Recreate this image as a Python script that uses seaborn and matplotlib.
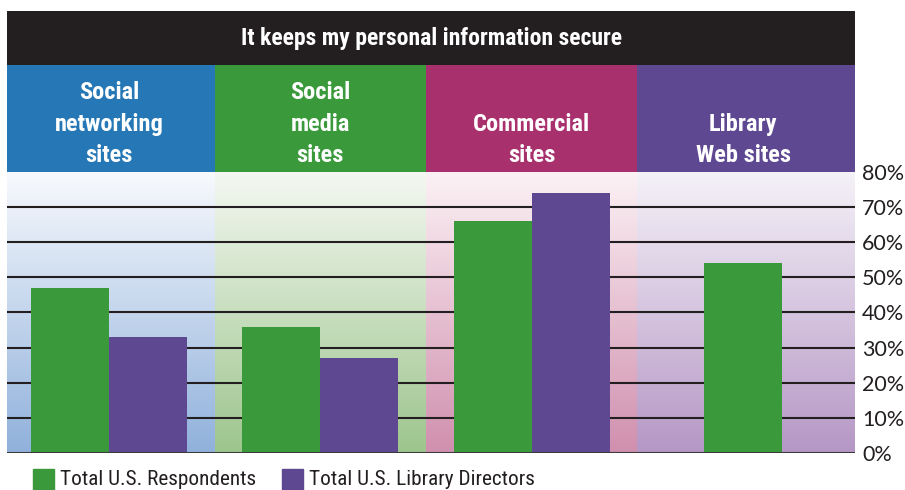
import numpy as np
import pandas as pd
import matplotlib
matplotlib.use("Agg")
import matplotlib.pyplot as plt
from matplotlib import font_manager
from matplotlib.colors import LinearSegmentedColormap
import seaborn as sns

# ---- data -------------------------------------------------------------
categories = ["Social\nnetworking\nsites", "Social\nmedia\nsites",
              "Commercial\nsites", "Library\nWeb sites"]
respondents = [47, 36, 66, 54]
directors = [33, 27, 74, np.nan]
series_names = ["Total U.S. Respondents", "Total U.S. Library Directors"]
y_ticks = [0, 10, 20, 30, 40, 50, 60, 70, 80]
tick_labels = [f"{t}%" for t in y_ticks]
title = "It keeps my personal information secure"

# ---- style ------------------------------------------------------------
sns.set_style("white")
installed = {f.name for f in font_manager.fontManager.ttflist}
narrow = "Roboto Condensed" if "Roboto Condensed" in installed else "Roboto"
plt.rcParams["font.family"] = [narrow, "DejaVu Sans"]

bar_colors = ["#3a9a3b", "#5e4892"]
header_colors = ["#2577b5", "#3a9a3b", "#a8306c", "#5e4892"]
bg_top = ["#f8fafd", "#f4f8f1", "#fcf2f5", "#f5f2f8"]
bg_bottom = ["#90b1dc", "#9dc58d", "#d08fae", "#b597c5"]
dark = "#231f20"

df = pd.DataFrame({
    "category": categories * 2,
    "value": respondents + directors,
    "series": [series_names[0]] * 4 + [series_names[1]] * 4,
})

W, H = 905, 490
fig = plt.figure(figsize=(W / 100, H / 100), dpi=100)


def fig_rect(x0, y0, x1, y1):
    return [x0 / W, 1 - y1 / H, (x1 - x0) / W, (y1 - y0) / H]


ax = fig.add_axes(fig_rect(7, 172, 855, 453))
ax_head = fig.add_axes(fig_rect(7, 65, 855, 172))
ax_title = fig.add_axes(fig_rect(7, 11, 855, 65))

x_lo, x_hi = -0.483, 3.53
edges = [x_lo] + [i + 0.5 for i in range(len(categories) - 1)] + [x_hi]

# gradient backgrounds per category
grad = np.linspace(1, 0, 256).reshape(-1, 1)
for i in range(len(categories)):
    cmap = LinearSegmentedColormap.from_list(f"bg{i}", [bg_top[i], bg_bottom[i]])
    ax.imshow(grad, extent=[edges[i], edges[i + 1], 0, 80], cmap=cmap,
              aspect="auto", zorder=0, origin="lower", vmin=0, vmax=1)

# horizontal rules
for t in y_ticks[1:-1]:
    ax.axhline(t, color=dark, lw=1.5, zorder=1)
ax.axhline(0, color="#3c3a3b", lw=2.2, zorder=3)

sns.barplot(data=df, x="category", y="value", hue="series",
            palette=bar_colors, width=0.738, dodge=True, saturation=1,
            ax=ax, legend=False, zorder=2, errorbar=None, linewidth=0)

# a category with only one series gets its bar centred
for i, (r, d) in enumerate(zip(respondents, directors)):
    if np.isnan(d):
        for p in ax.patches:
            cx = p.get_x() + p.get_width() / 2
            if abs(cx - i) < 0.5 and p.get_height() == r:
                p.set_x(i - p.get_width() / 2)

ax.set_xlim(x_lo, x_hi)
ax.set_ylim(0, 80)
ax.set_xlabel("")
ax.set_ylabel("")
ax.set_xticks([])
ax.yaxis.tick_right()
ax.set_yticks(y_ticks)
ax.set_yticklabels(tick_labels, fontsize=15.5, color=dark,
                   family=["Lato", "DejaVu Sans"])
ax.tick_params(axis="y", length=0, pad=5)
for s in ax.spines.values():
    s.set_visible(False)

# colored category headers, labels aligned on their last line
for i, (lab, c) in enumerate(zip(categories, header_colors)):
    ax_head.axvspan(edges[i], edges[i + 1], color=c, lw=0)
    ax_head.text(i, 0.05, lab, ha="center", va="bottom", color="white",
                 fontsize=17.6, fontweight="bold", linespacing=1.45)
ax_head.set_xlim(x_lo, x_hi)
ax_head.set_ylim(0, 1)
ax_head.axis("off")

# title band
ax_title.set_facecolor(dark)
ax_title.text(0.5, 0.5, title, ha="center", va="center", color="white",
              fontsize=17, fontweight="bold", transform=ax_title.transAxes)
ax_title.set_xticks([])
ax_title.set_yticks([])
for s in ax_title.spines.values():
    s.set_visible(False)

# legend
leg_y = 479
for x0, name, c in zip([33, 282], series_names, bar_colors):
    fig.patches.append(plt.Rectangle((x0 / W, 1 - 490 / H), 21 / W, 21 / H,
                                     transform=fig.transFigure, color=c))
    fig.text((x0 + 27) / W, 1 - leg_y / H, name, fontsize=15.3, color=dark,
             va="center", ha="left")

fig.savefig("out.png", dpi=100, facecolor="white")
